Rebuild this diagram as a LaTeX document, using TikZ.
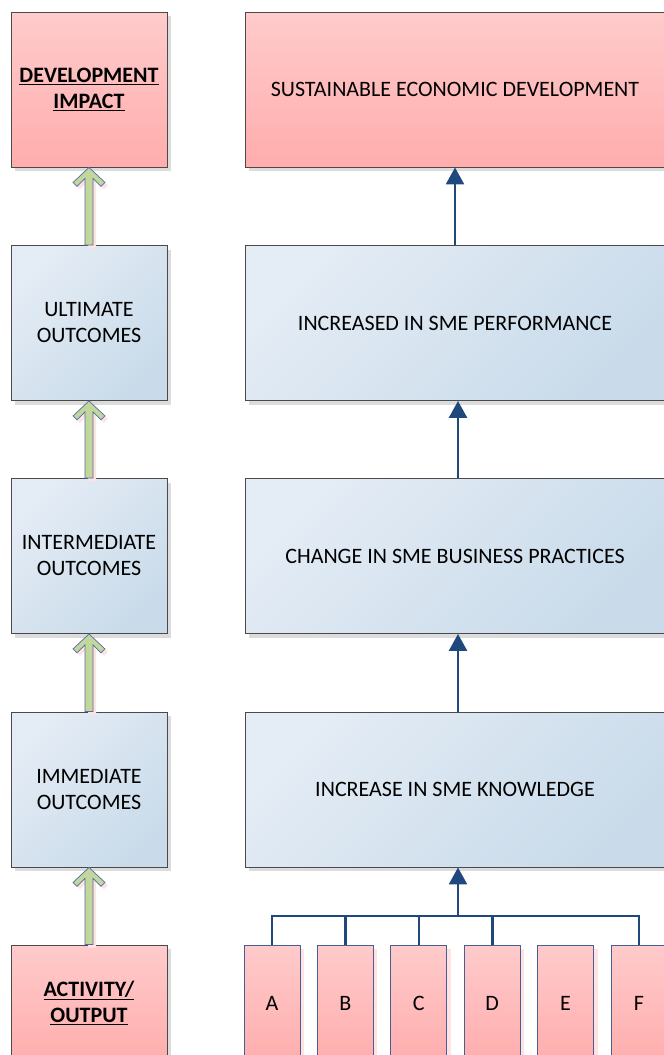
\documentclass[tikz,border=0pt]{standalone}
\usepackage{fontspec}
\setmainfont{Carlito}
\usepackage{xcolor}
\usepackage{tikz}
\usetikzlibrary{calc,arrows.meta,shadows}

\definecolor{pinkA}{HTML}{FFCBCB}
\definecolor{pinkB}{HTML}{FFADAD}
\definecolor{blueA}{HTML}{E4ECF5}
\definecolor{blueB}{HTML}{C9DBEA}
\definecolor{boxline}{HTML}{4A4A4A}
\definecolor{actline}{HTML}{4A5E96}
\definecolor{linkblue}{HTML}{1F497D}
\definecolor{ladderfill}{HTML}{C3D69B}
\definecolor{ladderline}{HTML}{4F6EA8}
\definecolor{shadowgray}{HTML}{DCDCDC}
\definecolor{shadowpink}{HTML}{FFE2E2}

\newcommand{\levelfont}{\fontsize{22}{26}\selectfont}

\tikzset{
  levelbox/.style={draw=boxline, line width=0.9pt, inner sep=0pt, align=center,
    font=\levelfont, text=black, minimum width=156pt, minimum height=155pt,
    drop shadow={shadow xshift=4pt, shadow yshift=-4pt, fill=shadowgray, opacity=1}},
  impactbox/.style={levelbox, top color=pinkA, bottom color=pinkB},
  outcomebox/.style={levelbox, top color=blueA, bottom color=blueB, shading angle=45},
  widebox/.style={minimum width=420pt},
  actbox/.style={draw=actline, line width=0.9pt, inner sep=0pt, font=\levelfont,
    minimum width=56pt, minimum height=116pt, top color=pinkA, bottom color=pinkB,
    drop shadow={shadow xshift=4pt, shadow yshift=-4pt, fill=shadowpink, opacity=1}},
  linkarrow/.style={draw=linkblue, line width=2.6pt, -{Triangle[width=18pt,length=17pt]}},
  linkline/.style={draw=linkblue, line width=2.6pt},
  ladder/.style={fill=ladderfill, draw=ladderline, line width=0.7pt, line join=miter,
    preaction={fill=shadowpink, draw=none, transform canvas={xshift=3pt,yshift=-3pt}}},
}

\begin{document}
\begin{tikzpicture}[x=1pt,y=-1pt]

  \useasboundingbox (0,0) rectangle (664,1055);
  \clip (0,0) rectangle (664,1055);

  % Left column: levels
  \node[impactbox]  (impact)   at (89,89.5)  {\bfseries\underline{DEVELOPMENT}\\\bfseries\underline{IMPACT}};
  \node[outcomebox] (ultimate) at (89,323)   {ULTIMATE\\OUTCOMES};
  \node[outcomebox] (interm)   at (89,556)   {INTERMEDIATE\\OUTCOMES};
  \node[outcomebox] (immed)    at (89,789.5) {IMMEDIATE\\OUTCOMES};
  \node[impactbox, minimum height=116pt] (activity) at (89,1003)
    {\bfseries\underline{ACTIVITY/}\\\bfseries\underline{OUTPUT}};

  % Right column: results chain
  \node[impactbox, widebox]  (sustain)   at (455,89.5)  {SUSTAINABLE ECONOMIC DEVELOPMENT};
  \node[outcomebox, widebox] (perform)   at (455,323)   {INCREASED IN SME PERFORMANCE};
  \node[outcomebox, widebox] (practices) at (455,556)   {CHANGE IN SME BUSINESS PRACTICES};
  \node[outcomebox, widebox] (knowledge) at (455,789.5) {INCREASE IN SME KNOWLEDGE};

  % Activities A..F
  \foreach \act [count=\i from 0] in {A,B,C,D,E,F}
    \node[actbox] (act\act) at (272+73.4*\i,1003) {\act};

  % Green ladder arrows between levels
  \foreach \lo/\hi in {ultimate/impact, interm/ultimate, immed/interm, activity/immed}
    \draw[ladder]
      ($(\lo.north)+(-4,0)$) -- ($(\hi.south)+(-4,11)$) -- ($(\hi.south)+(-12,19)$)
      -- ($(\hi.south)+(-16,15)$) -- (\hi.south) -- ($(\hi.south)+(16,15)$)
      -- ($(\hi.south)+(12,19)$) -- ($(\hi.south)+(4,11)$) -- ($(\lo.north)+(4,0)$) -- cycle;

  % Blue arrows in the results chain
  \draw[linkarrow] (perform.north) -- (sustain.south);
  \draw[linkarrow] ([xshift=3pt]practices.north) -- ([xshift=3pt]perform.south);
  \draw[linkarrow] ([xshift=3pt]knowledge.north) -- ([xshift=3pt]practices.south);

  % Bus from the activities (E is not linked)
  \coordinate (bus) at (458,916);
  \draw[linkline, line cap=rect] (actA.north |- bus) -- (actF.north |- bus);
  \foreach \act in {A,B,C,D,F}
    \draw[linkline] (act\act.north) -- (act\act.north |- bus);
  \draw[linkarrow] (bus) -- (bus |- knowledge.south);

\end{tikzpicture}
\end{document}
